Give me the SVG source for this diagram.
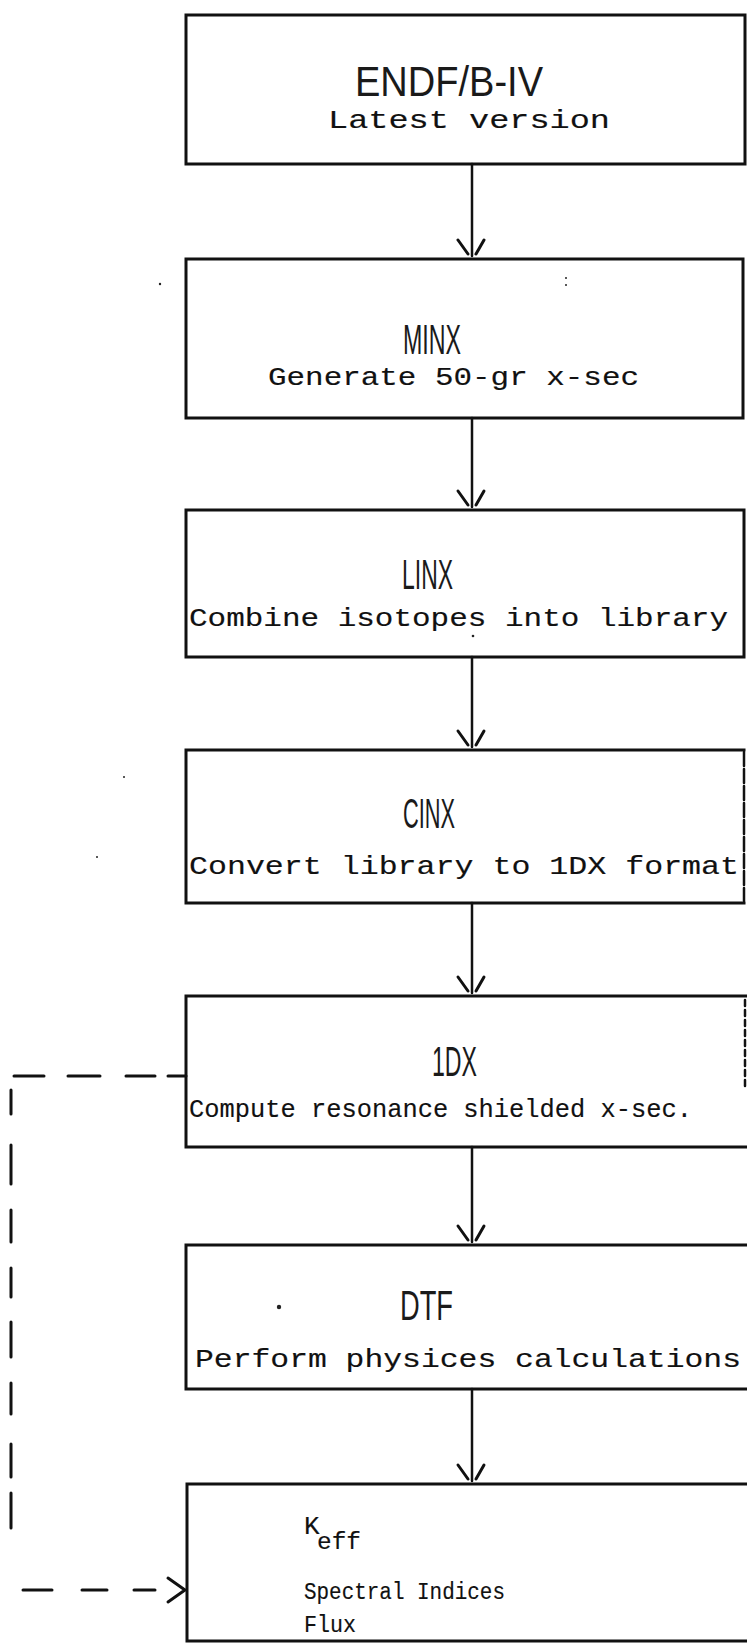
<svg xmlns="http://www.w3.org/2000/svg" width="747" height="1643" viewBox="0 0 747 1643">
  <style>
    .box { fill: none; stroke: #111; stroke-width: 3; stroke-linecap: square; }
    .edge { fill: none; stroke: #111; stroke-width: 2.5; stroke-linecap: round; }
    .dash { fill: none; stroke: #111; stroke-width: 3; stroke-linecap: round; }
    .head { fill: none; stroke: #111; stroke-width: 3; stroke-linecap: round; }
    .title { font-family: "Liberation Sans", "DejaVu Sans", sans-serif; font-size: 42px; fill: #1a1a1a; }
    .sub { font-family: "Liberation Mono", "DejaVu Sans Mono", monospace; font-size: 26px; fill: #111; stroke: #111; stroke-width: 0.15; }
    .res { font-size: 23px; }
    .speck { fill: #222; }
  </style>
  <rect width="747" height="1643" fill="#fff"/>

  <!-- ENDF/B-IV -->
  <g id="node-endf">
    <path class="box" d="M186,15 H745 V164 H186 Z"/>
    <text class="title" x="355" y="96" textLength="188" lengthAdjust="spacingAndGlyphs">ENDF/B-IV</text>
    <text class="sub" x="328" y="128" textLength="282" lengthAdjust="spacingAndGlyphs">Latest version</text>
  </g>

  <!-- MINX -->
  <g id="node-minx">
    <path class="box" d="M186,259 H743 V418 H186 Z"/>
    <text class="title" x="403" y="354" font-size="40" textLength="58" lengthAdjust="spacingAndGlyphs">MINX</text>
    <text class="sub" x="268" y="385" font-size="24" textLength="371" lengthAdjust="spacingAndGlyphs">Generate 50-gr x-sec</text>
  </g>

  <!-- LINX -->
  <g id="node-linx">
    <path class="box" d="M186,510 H744 V657 H186 Z"/>
    <text class="title" x="402" y="589" textLength="51" lengthAdjust="spacingAndGlyphs">LINX</text>
    <text class="sub" x="189" y="626" textLength="539" lengthAdjust="spacingAndGlyphs">Combine isotopes into library</text>
  </g>

  <!-- CINX -->
  <g id="node-cinx">
    <path class="box" d="M744,903 H186 V750 H744"/>
    <path class="edge" d="M744,752 V901" stroke-dasharray="14 3" stroke-width="2"/>
    <text class="title" x="403" y="828" textLength="52" lengthAdjust="spacingAndGlyphs">CINX</text>
    <text class="sub" x="189" y="874" textLength="550" lengthAdjust="spacingAndGlyphs">Convert library to 1DX format</text>
  </g>

  <!-- 1DX -->
  <g id="node-1dx">
    <path class="box" d="M747,1147 H186 V996 H747"/>
    <path class="edge" d="M745,1000 V1090" stroke-dasharray="6 4" stroke-width="1.5"/>
    <text class="title" x="432" y="1076" textLength="45" lengthAdjust="spacingAndGlyphs">1DX</text>
    <text class="sub" x="189" y="1117" textLength="503" lengthAdjust="spacingAndGlyphs">Compute resonance shielded x-sec.</text>
  </g>

  <!-- DTF -->
  <g id="node-dtf">
    <path class="box" d="M747,1389 H186 V1245 H747"/>
    <text class="title" x="400" y="1320" textLength="53" lengthAdjust="spacingAndGlyphs">DTF</text>
    <text class="sub" x="195" y="1367" textLength="546" lengthAdjust="spacingAndGlyphs">Perform physices calculations</text>
  </g>

  <!-- Results -->
  <g id="node-results">
    <path class="box" d="M747,1641 H187 V1484 H747"/>
    <text class="sub" x="304" y="1534" font-size="20">K</text>
    <text class="sub res" x="317" y="1549" textLength="44" lengthAdjust="spacingAndGlyphs">eff</text>
    <text class="sub res" x="304" y="1599" textLength="201" lengthAdjust="spacingAndGlyphs">Spectral Indices</text>
    <text class="sub res" x="304" y="1632" textLength="52" lengthAdjust="spacingAndGlyphs">Flux</text>
  </g>

  <!-- connectors -->
  <g id="connectors">
    <path class="edge" d="M472,164 V256"/>
    <path class="head" d="M458,240 L468,254 M484,240 L476,254"/>
    <path class="edge" d="M472,418 V507"/>
    <path class="head" d="M458,491 L468,505 M484,491 L476,505"/>
    <path class="edge" d="M472,657 V747"/>
    <path class="head" d="M458,731 L468,745 M484,731 L476,745"/>
    <path class="edge" d="M472,903 V993"/>
    <path class="head" d="M458,977 L468,991 M484,977 L476,991"/>
    <path class="edge" d="M472,1147 V1242"/>
    <path class="head" d="M458,1226 L468,1240 M484,1226 L476,1240"/>
    <path class="edge" d="M472,1389 V1481"/>
    <path class="head" d="M458,1465 L468,1479 M484,1465 L476,1479"/>

    <!-- feedback from 1DX straight to results: hand-drawn dashes -->
    <path class="dash" d="M186,1076 H168 M155,1076 H126 M100,1076 H68 M44,1076 H14"/>
    <path class="dash" d="M11,1090 V1114 M11,1145 V1184 M11,1210 V1242 M11,1268 V1297 M11,1322 V1357 M11,1383 V1414 M11,1444 V1477 M11,1493 V1528"/>
    <path class="dash" d="M23,1590 H52 M82,1590 H107 M134,1590 H155"/>
    <path class="head" d="M168,1578 L185,1590 L168,1602"/>
  </g>

  <!-- scan specks -->
  <circle class="speck" cx="279" cy="1307" r="2.2"/>
  <circle class="speck" cx="160" cy="284" r="1.2"/>
  <circle class="speck" cx="566" cy="278" r="1"/>
  <circle class="speck" cx="566" cy="285" r="1"/>
  <circle class="speck" cx="473" cy="636" r="1.3"/>
  <circle class="speck" cx="124" cy="777" r="1"/>
  <circle class="speck" cx="97" cy="857" r="1"/>
</svg>
